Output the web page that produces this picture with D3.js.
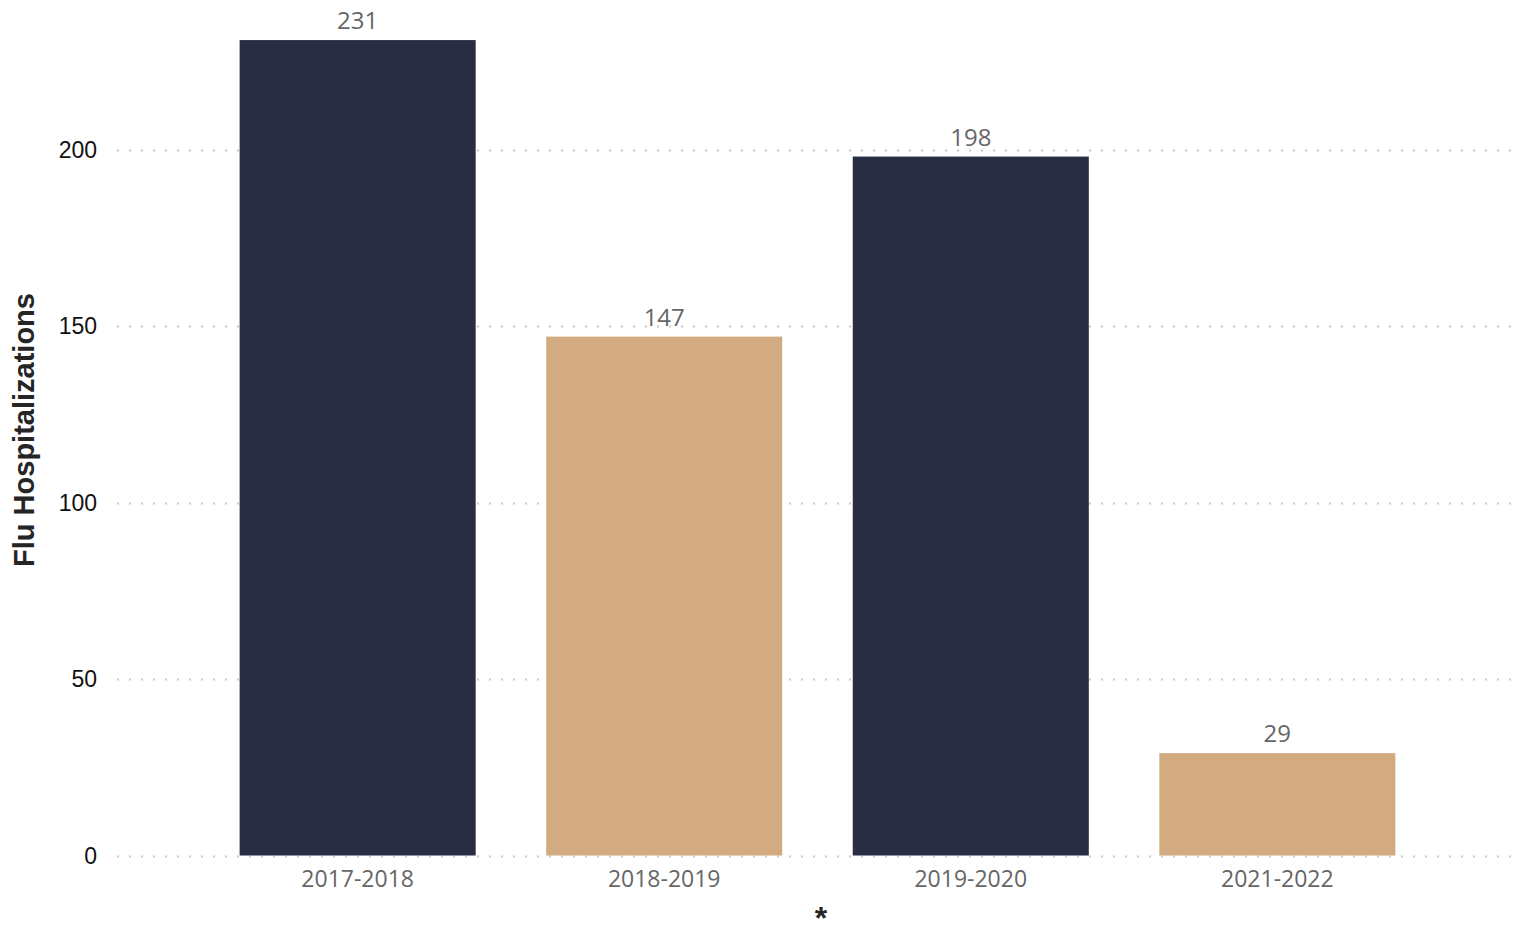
<!DOCTYPE html>
<html><head><meta charset="utf-8">
<script src="https://cdn.jsdelivr.net/npm/d3@7"></script>
<style>body{margin:0;background:#fff}svg{display:block}</style>
</head><body>
<svg id="c" width="1516" height="925"></svg>
<script>
const categories = ["2017-2018","2018-2019","2019-2020","2021-2022"];
const values = [231,147,198,29];
const colors = ["#282d43","#d2ab80","#282d43","#d2ab80"];
const yTicks = [0,50,100,150,200];

const svg = d3.select("#c");
const y = d3.scaleLinear().domain([0,200]).range([855.5,149.5]);
const x = d3.scaleBand().domain(categories).range([117,1518]).paddingInner(0.23).paddingOuter(0.4);

// grid
svg.append("g").selectAll("line").data(yTicks).join("line")
  .attr("x1",117).attr("x2",1514)
  .attr("y1",d=>Math.round(y(d))+0.5).attr("y2",d=>Math.round(y(d))+0.5)
  .attr("stroke","#c8c8c8").attr("stroke-width",2)
  .attr("stroke-dasharray","2,10");

// y tick labels
svg.append("g").selectAll("text").data(yTicks).join("text")
  .attr("x",97).attr("y",d=>y(d)).attr("dy","0.36em")
  .attr("text-anchor","end")
  .style("font-family","'Liberation Sans', Arial, sans-serif")
  .style("font-size","23px").attr("fill","#111")
  .text(d=>d);

// bars
svg.append("g").selectAll("rect").data(values).join("rect")
  .attr("x",(d,i)=>x(categories[i])).attr("width",x.bandwidth())
  .attr("y",d=>y(d)).attr("height",d=>y(0)-y(d))
  .attr("fill",(d,i)=>colors[i]);

// value labels
svg.append("g").selectAll("text").data(values).join("text")
  .attr("x",(d,i)=>x(categories[i])+x.bandwidth()/2)
  .attr("y",d=>y(d)-11)
  .attr("text-anchor","middle")
  .style("font-family","'Open Sans', 'Noto Sans', sans-serif")
  .style("font-size","24px").attr("fill","#666")
  .text(d=>d);

// x labels
svg.append("g").selectAll("text").data(categories).join("text")
  .attr("x",d=>x(d)+x.bandwidth()/2)
  .attr("y",887)
  .attr("text-anchor","middle")
  .style("font-family","'Open Sans', 'Noto Sans', sans-serif")
  .style("font-size","23px").attr("fill","#666")
  .text(d=>d);

// axis titles
svg.append("text")
  .attr("transform","translate(34,430) rotate(-90)")
  .attr("text-anchor","middle")
  .style("font-family","'Liberation Sans', Arial, sans-serif")
  .style("font-size","29px").style("font-weight","bold").attr("fill","#252525")
  .text("Flu Hospitalizations");

svg.append("text")
  .attr("x",821).attr("y",929)
  .attr("text-anchor","middle")
  .style("font-family","'Liberation Sans', Arial, sans-serif")
  .style("font-size","32px").style("font-weight","bold").attr("fill","#252525")
  .text("*");
</script>
</body></html>
